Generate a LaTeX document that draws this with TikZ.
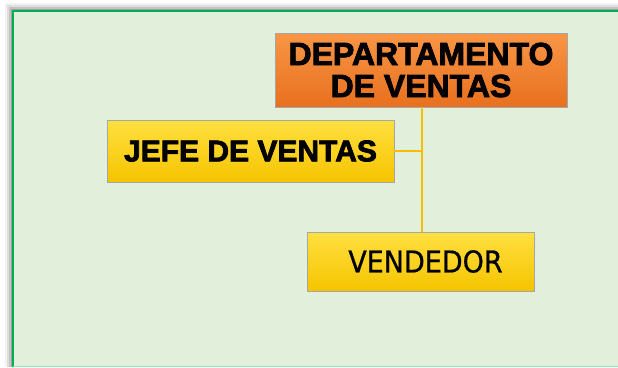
\documentclass[tikz,border=0pt]{standalone}
\usepackage{fontspec}
\setmainfont{Liberation Sans}
\newfontfamily\gruesa[FakeBold=2.5]{Liberation Sans Bold}
\newfontfamily\dinfont[FakeBold=0.6]{DejaVu Sans Condensed}
\usetikzlibrary{positioning}
\definecolor{fondo}{HTML}{E2EFDA}
\definecolor{borde}{HTML}{00B050}
\definecolor{naranjaA}{HTML}{F79646}
\definecolor{naranjaB}{HTML}{E8701E}
\definecolor{amarilloA}{HTML}{FFE040}
\definecolor{amarilloB}{HTML}{F5C400}
\definecolor{linea}{HTML}{F5BE00}
\tikzstyle{caja} = [draw=gray!70, line width=0.8pt, inner sep=0pt, align=center]
\tikzstyle{naranja} = [caja, top color=naranjaA, bottom color=naranjaB,
    font=\fontsize{32}{32}\selectfont\gruesa]
\tikzstyle{amarillo} = [caja, top color=amarilloA, bottom color=amarilloB]
\tikzset{conector/.style={draw=linea, line width=2.5pt}}

\begin{document}
\begin{tikzpicture}[x=1pt,y=-1pt]
    \useasboundingbox (0,0) rectangle (618,367);
    % sombra y fondo
    \foreach \s/\o in {8/0.05,6/0.08,4/0.12,2/0.18}
    {\fill[black,opacity=\o] (13-\s,11-\s) rectangle (618,367);}
    \fill[fondo] (13,11) rectangle (618,367);
    \draw[borde, line width=2pt] (13,367) -- (13,11) -- (618,11);
    \draw[borde!40, line width=1pt] (13,366.5) -- (618,366.5);
    % organigrama
    \node[naranja, minimum width=292, minimum height=74] (depto) at (421,70)
        {DEPARTAMENTO\\DE VENTAS};
    \node[amarillo, minimum width=287, minimum height=62,
        font=\fontsize{30}{30}\selectfont\gruesa] (jefe) at (250.5,151)
        {JEFE DE VENTAS};
    \node[amarillo, minimum width=227, minimum height=59,
        font=\fontsize{30}{30}\selectfont\dinfont] (vendedor) at (420.5,261.5)
        {\hspace{10pt}VENDEDOR};
    \coordinate (nudo) at (jefe.east -| 422,0);
    \draw[conector] (depto.south -| nudo) -- (vendedor.north -| nudo);
    \draw[conector] (jefe.east) -- (nudo);
\end{tikzpicture}
\end{document}
